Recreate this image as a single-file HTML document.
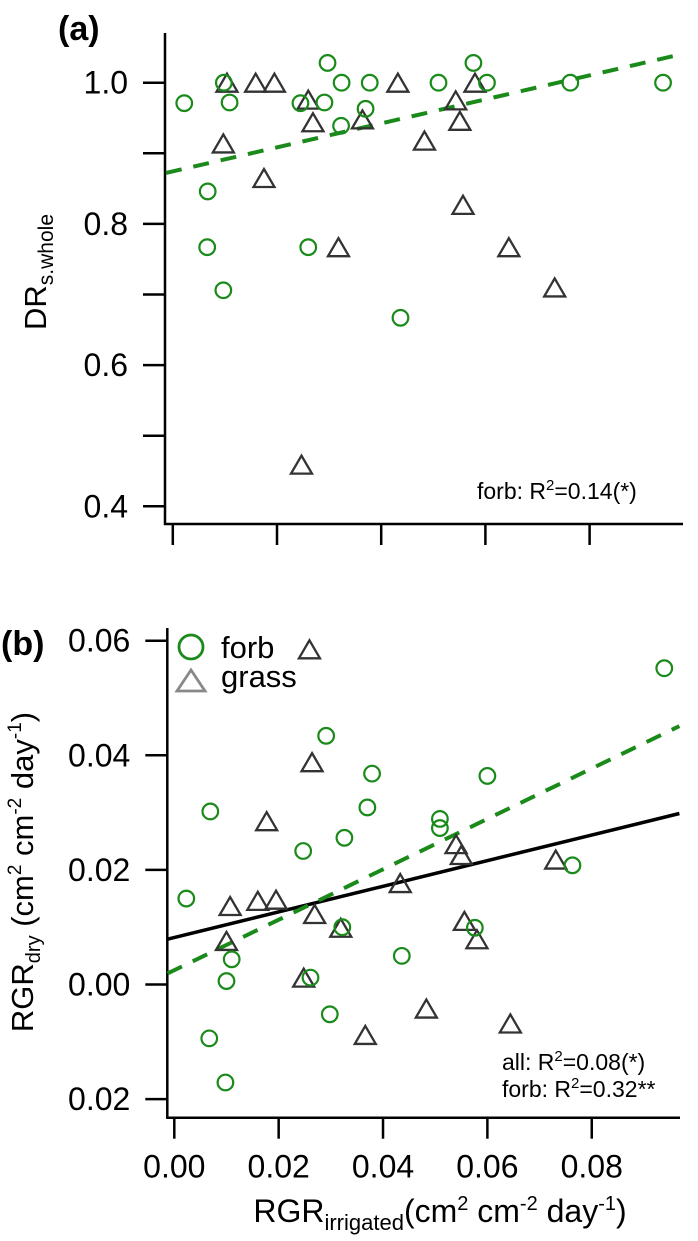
<!DOCTYPE html>
<html><head><meta charset="utf-8">
<style>
html,body{margin:0;padding:0;background:#fff;}
svg{display:block;font-family:"Liberation Sans",Arial,sans-serif;}
</style></head>
<body>
<svg id="fig" width="698" height="1241" viewBox="0 0 698 1241" xmlns="http://www.w3.org/2000/svg">
  <g id="pa"></g>
  <g id="pb"></g>
  <text x="58" y="40" font-size="34" font-weight="bold">(a)</text>
  <text x="1" y="655" font-size="34" font-weight="bold">(b)</text>
  <text transform="translate(46,272) rotate(-90)" text-anchor="middle" font-size="31">DR<tspan font-size="21" dy="7">s.whole</tspan></text>
  <text transform="translate(33,872) rotate(-90)" text-anchor="middle" font-size="31">RGR<tspan font-size="20" dy="7">dry</tspan><tspan dy="-7"> (cm</tspan><tspan font-size="19" dy="-12">2</tspan><tspan dy="12"> cm</tspan><tspan font-size="19" dy="-12">-2</tspan><tspan dy="12"> day</tspan><tspan font-size="19" dy="-12">-1</tspan><tspan dy="12">)</tspan></text>
  <text x="440" y="1222" text-anchor="middle" font-size="32">RGR<tspan font-size="22" dy="8">irrigated</tspan><tspan dy="-8">(cm</tspan><tspan font-size="20" dy="-12">2</tspan><tspan dy="12"> cm</tspan><tspan font-size="20" dy="-12">-2</tspan><tspan dy="12"> day</tspan><tspan font-size="20" dy="-12">-1</tspan><tspan dy="12">)</tspan></text>
  <text x="477" y="499" font-size="23">forb: R<tspan font-size="15" dy="-9">2</tspan><tspan dy="9">=0.14(*)</tspan></text>
  <text x="502" y="1070" font-size="23">all: R<tspan font-size="15" dy="-9">2</tspan><tspan dy="9">=0.08(*)</tspan></text>
  <text x="502" y="1097" font-size="23">forb: R<tspan font-size="15" dy="-9">2</tspan><tspan dy="9">=0.32**</tspan></text>
  <g>
    <circle cx="191" cy="647" r="12" fill="none" stroke="#1a8a1a" stroke-width="2.8"></circle>
    <text x="221" y="658" font-size="31">forb</text>
    <polygon points="177,691 205,691 191,670" fill="none" stroke="#888" stroke-width="2.8"></polygon>
    <text x="221" y="687" font-size="31">grass</text>
  </g>
</svg>
<script>
// Panel (a) data
var aForbX = [0.0022,0.0098,0.0109,0.0067,0.0066,0.0097,0.0245,0.026,0.0291,0.0297,0.0324,0.0323,0.037,0.0378,0.0437,0.051,0.0577,0.0603,0.0763,0.0941];
var aForbY = [0.971,1.0,0.972,0.846,0.767,0.706,0.971,0.767,0.972,1.028,1.0,0.939,0.963,1.0,0.667,1.0,1.028,1.0,1.0,1.0];
var aGrassX = [0.0104,0.0159,0.0195,0.026,0.0269,0.0097,0.0175,0.0318,0.0247,0.0364,0.0432,0.0483,0.0543,0.0551,0.0557,0.058,0.0645,0.0733];
var aGrassY = [1.0,1.0,1.0,0.976,0.944,0.914,0.865,0.767,0.459,0.948,1.0,0.918,0.975,0.946,0.827,1.0,0.767,0.71];
var aFitForb = [0.8744, 1.70];
var aYTicks = [0.4,0.5,0.6,0.7,0.8,0.9,1.0];
var aYLabels = ["0.4","","0.6","","0.8","","1.0"];
var xTicks = [0,0.02,0.04,0.06,0.08];
var xLabels = ["0.00","0.02","0.04","0.06","0.08"];
// Panel (b) data
var bForbX = [0.0939,0.0291,0.0379,0.06,0.0069,0.037,0.0509,0.0509,0.0326,0.0247,0.0763,0.0023,0.0576,0.0322,0.011,0.01,0.0261,0.0436,0.0298,0.0067,0.0098];
var bForbY = [0.0552,0.0434,0.0368,0.0364,0.0302,0.0309,0.0289,0.0273,0.0256,0.0233,0.0208,0.015,0.0099,0.01,0.0044,0.0006,0.0012,0.005,-0.0052,-0.0094,-0.0171];
var bGrassX = [0.0259,0.0264,0.0177,0.054,0.055,0.0731,0.0433,0.0107,0.016,0.0195,0.0269,0.0319,0.01,0.0556,0.058,0.0248,0.0483,0.0644,0.0366];
var bGrassY = [0.0585,0.0388,0.0285,0.0245,0.0226,0.0218,0.0177,0.0137,0.0146,0.0148,0.0123,0.0099,0.0076,0.0111,0.0079,0.0012,-0.0042,-0.0068,-0.0088];
var bFitAll = [0.0082, 0.2236];
var bFitForb = [0.0025, 0.44];
var bYTicks = [-0.02,0,0.02,0.04,0.06];
var bYLabels = ["0.02","0.00","0.02","0.04","0.06"];

var NS = "http://www.w3.org/2000/svg";
function mk(parent, tag, attrs){
  var e = document.createElementNS(NS, tag);
  for (var k in attrs) e.setAttribute(k, attrs[k]);
  parent.appendChild(e);
  return e;
}
var GREEN = "#1a8a1a", DARK = "#333";

function drawPanel(g, cfg){
  var X = function(v){ return cfg.x0 + v*cfg.kx; };
  var Y = function(v){ return cfg.y0 - (v-cfg.yref)*cfg.ky; };
  var ya = mk(g,"line",{x1:cfg.axX,y1:cfg.axTop,x2:cfg.axX,y2:cfg.axY+1,stroke:"#000","stroke-width":2.5});
  
  
  var xa = mk(g,"line",{x1:cfg.axX-1,y1:cfg.axY,x2:cfg.axRight,y2:cfg.axY,stroke:"#000","stroke-width":2.5});
  
  
  cfg.yTicks.forEach(function(v,i){
    var y = Y(v);
    var t = mk(g,"line",{x1:cfg.axX-22,y1:y,x2:cfg.axX,y2:y,stroke:"#000","stroke-width":2.5});
    
    
    if (cfg.yLabels[i]) {
      var l = mk(g,"text",{x:cfg.axX-37,y:y+11,"text-anchor":"end","font-size":32});
      l.textContent = cfg.yLabels[i];
      
      
    }
  });
  xTicks.forEach(function(v,i){
    var x = X(v);
    var t = mk(g,"line",{x1:x,y1:cfg.axY,x2:x,y2:cfg.axY+21,stroke:"#000","stroke-width":2.5});
    
    
    if (cfg.xLabels) {
      var l = mk(g,"text",{x:x,y:cfg.axY+60,"text-anchor":"middle","font-size":32});
      l.textContent = xLabels[i];
      
      
    }
  });
  var xs = -0.0013, xe = cfg.fitEnd;
  cfg.fits.forEach(function(f){
    var ln = mk(g,"line",{x1:X(xs),y1:Y(f.c[0]+f.c[1]*xs),x2:X(xe),y2:Y(f.c[0]+f.c[1]*xe),stroke:f.color,"stroke-width":f.w});
    if (f.dash) ln.setAttribute("stroke-dasharray", f.dash);
    
    
  });
  cfg.gx.forEach(function(v,i){
    var cx = X(v), cy = Y(cfg.gy[i]);
    var p = mk(g,"polygon",{points:(cx-10.5)+","+(cy+9)+" "+(cx+10.5)+","+(cy+9)+" "+cx+","+(cy-9),fill:"none",stroke:DARK,"stroke-width":2.3});
    
    
  });
  cfg.fx.forEach(function(v,i){
    var c = mk(g,"circle",{cx:X(v),cy:Y(cfg.fy[i]),r:7.8,fill:"none",stroke:GREEN,"stroke-width":2.2});
    
    
  });
}

drawPanel(document.getElementById("pa"), {
  p:"a", x0:172.8, kx:5210, y0:82.7, yref:1.0, ky:706,
  axX:165, axTop:33, axY:524, axRight:683, fitEnd:0.0975,
  yTicks:aYTicks, yLabels:aYLabels, xLabels:false,
  fits:[{c:aFitForb,color:GREEN,w:4,dash:"16 12",name:"forb-fit-line-a"}],
  fx:aForbX, fy:aForbY, gx:aGrassX, gy:aGrassY
});
drawPanel(document.getElementById("pb"), {
  p:"b", x0:174.3, kx:5218, y0:984.5, yref:0, ky:5730,
  axX:167.3, axTop:628, axY:1117.7, axRight:680, fitEnd:0.0968,
  yTicks:bYTicks, yLabels:bYLabels, xLabels:true,
  fits:[{c:bFitAll,color:"#000",w:3.5,dash:null,name:"all-fit-line-b"},
        {c:bFitForb,color:GREEN,w:4,dash:"16 12",name:"forb-fit-line-b"}],
  fx:bForbX, fy:bForbY, gx:bGrassX, gy:bGrassY
});
</script>
</body></html>
